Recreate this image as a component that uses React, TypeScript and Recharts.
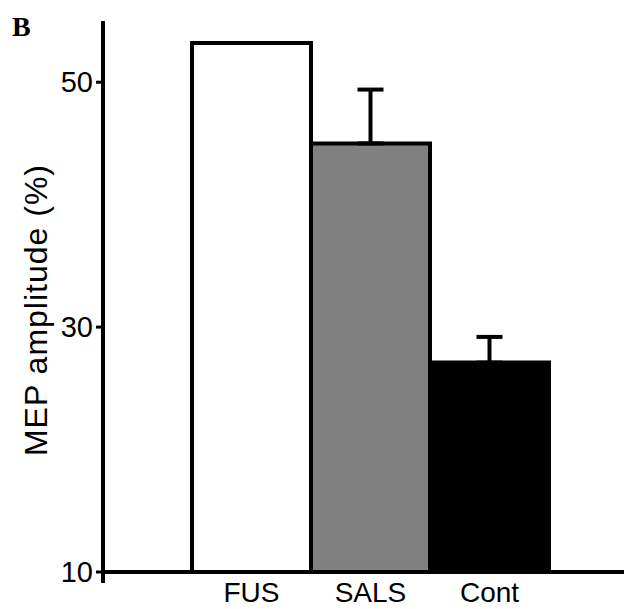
import React from 'react';
import { BarChart, Bar, XAxis, YAxis, Cell, ErrorBar } from 'recharts';

const categories = ['FUS', 'SALS', 'Cont'];
const values = [53.2, 45.0, 27.1];
const upperErrors: (number | null)[] = [null, 4.4, 2.1];
const fills = ['#ffffff', '#808080', '#000000'];
const yTicks = [10, 30, 50];

const data = categories.map((name, i) => ({
  name,
  value: values[i],
  err: upperErrors[i] === null ? null : [0, upperErrors[i]],
}));

const FONT = '"Liberation Sans", Arial, Helvetica, sans-serif';

const YTick = (props: any) => {
  const { x, y, payload } = props;
  const axisX = x + 7 + 3;
  return (
    <g>
      <text
        x={x}
        y={y}
        dy={10}
        textAnchor="end"
        fontFamily={FONT}
        fontSize={29}
        fill="#000"
      >
        {payload.value}
      </text>
      {payload.value === 10 ? (
        <line x1={axisX} x2={axisX} y1={y} y2={y + 11} stroke="#000" strokeWidth={4} />
      ) : null}
    </g>
  );
};

export default function App() {
  return (
    <div style={{ position: 'relative', width: 624, height: 601 }}>
      <div
        style={{
          position: 'absolute',
          left: 4,
          top: 5,
          fontFamily: '"Liberation Serif", "Times New Roman", serif',
          fontSize: 28,
          fontWeight: 'bold',
          lineHeight: '28px',
          color: '#000',
        }}
      >
        B
      </div>
      <BarChart
        width={624}
        height={601}
        data={data}
        margin={{ top: 13, right: 0, bottom: 7, left: 0 }}
        barCategoryGap={0}
        style={{ overflow: 'visible' }}
      >
        <XAxis
          dataKey="name"
          axisLine={{ stroke: '#000', strokeWidth: 4 }}
          tickLine={false}
          tickSize={0}
          tickMargin={10}
          height={30}
          padding={{ left: 89, right: 83 }}
          tick={{ fill: '#000', fontSize: 28, fontFamily: FONT }}
          interval={0}
        />
        <YAxis
          width={95}
          domain={[10, 55]}
          ticks={yTicks}
          allowDataOverflow
          axisLine={{ stroke: '#000', strokeWidth: 4 }}
          tickLine={{ stroke: '#000', strokeWidth: 3 }}
          tickSize={7}
          tickMargin={3}
          tick={<YTick />}
          label={{
            content: () => (
              <text
                transform="translate(39,302) rotate(-90)"
                textAnchor="middle"
                fontFamily={FONT}
                fontSize={32}
                letterSpacing={1}
                fill="#000"
              >
                MEP amplitude (%)
              </text>
            ),
          }}
        />
        <Bar dataKey="value" stroke="#000" strokeWidth={4} isAnimationActive={false}>
          {data.map((d, i) => (
            <Cell key={d.name} fill={fills[i]} />
          ))}
          <ErrorBar dataKey="err" width={13} stroke="#000" strokeWidth={4} direction="y" />
        </Bar>
      </BarChart>
    </div>
  );
}
